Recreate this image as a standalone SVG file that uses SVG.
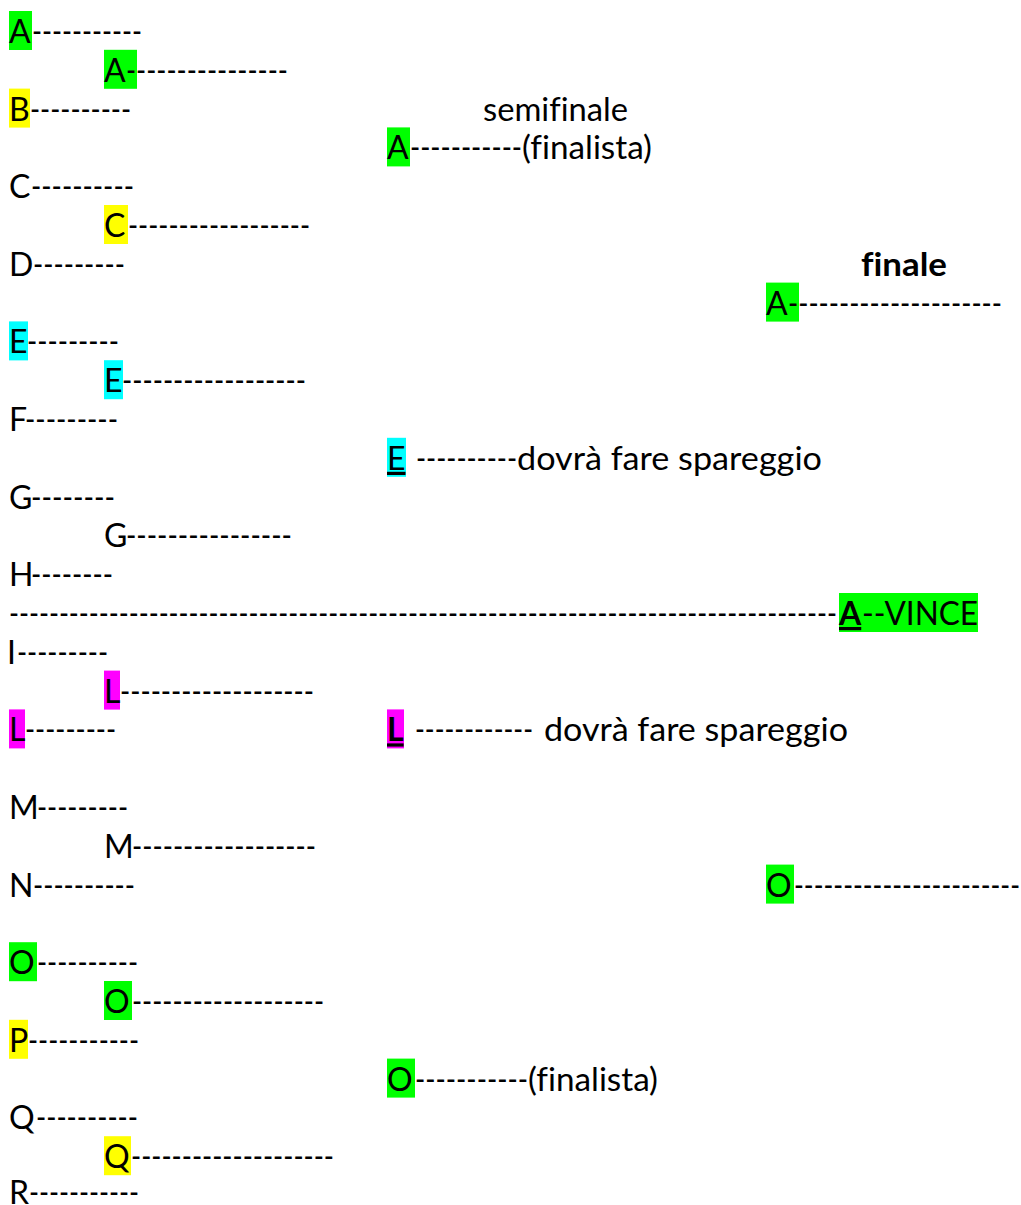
<svg xmlns="http://www.w3.org/2000/svg" width="1021" height="1205" viewBox="0 0 1021 1205">
<style>
text{font-family:Lato,"Noto Sans","DejaVu Sans",sans-serif;font-size:32px;fill:#000;font-variant-ligatures:none;font-feature-settings:"liga" 0}
.b{font-weight:bold}
.u{text-decoration:underline}
.g{fill:#00ff00}.y{fill:#ffff00}.c{fill:#00ffff}.m{fill:#ff00ff}
</style>
<rect width="1021" height="1205" fill="#fff"/>
<g id="highlights">
<rect class="g" x="9" y="11" width="23" height="39"/>
<rect class="g" x="104" y="49.8" width="33" height="39"/>
<rect class="y" x="9" y="88.6" width="21" height="39"/>
<rect class="g" x="387" y="127.4" width="23" height="39"/>
<rect class="y" x="104" y="205" width="24" height="39"/>
<rect class="g" x="766" y="282.6" width="33" height="39"/>
<rect class="c" x="9" y="321.4" width="19" height="39"/>
<rect class="c" x="104" y="360.2" width="19" height="39"/>
<rect class="c" x="387" y="437.8" width="19" height="39"/>
<rect class="g" x="839" y="593" width="139" height="39"/>
<rect class="m" x="104" y="670.6" width="16" height="39"/>
<rect class="m" x="9" y="709.4" width="16" height="39"/>
<rect class="m" x="387" y="709.4" width="17" height="39"/>
<rect class="g" x="766" y="864.6" width="28" height="39"/>
<rect class="g" x="9" y="942.2" width="28" height="39"/>
<rect class="g" x="104" y="981" width="28" height="39"/>
<rect class="y" x="9" y="1019.8" width="19" height="39"/>
<rect class="g" x="387" y="1058.6" width="28" height="39"/>
<rect class="y" x="104" y="1136.2" width="27" height="39"/>
</g>
<g id="headings">
<text x="483" y="120.6" textLength="145" lengthAdjust="spacingAndGlyphs">semifinale</text>
<text class="b" x="861" y="275.8" textLength="86" lengthAdjust="spacingAndGlyphs">finale</text>
</g>
<g id="round1">
<text x="9" y="43">A</text><text x="32" y="43" textLength="110" lengthAdjust="spacingAndGlyphs">-----------</text>
<text x="9" y="120.6">B</text><text x="30" y="120.6" textLength="101" lengthAdjust="spacingAndGlyphs">----------</text>
<text x="9" y="198.2">C</text><text x="31" y="198.2" textLength="103" lengthAdjust="spacingAndGlyphs">----------</text>
<text x="9" y="275.8">D</text><text x="33" y="275.8" textLength="92" lengthAdjust="spacingAndGlyphs">---------</text>
<text x="9" y="353.4">E</text><text x="27" y="353.4" textLength="92" lengthAdjust="spacingAndGlyphs">---------</text>
<text x="9" y="431">F</text><text x="25" y="431" textLength="93" lengthAdjust="spacingAndGlyphs">---------</text>
<text x="9" y="508.6">G</text><text x="31" y="508.6" textLength="84" lengthAdjust="spacingAndGlyphs">--------</text>
<text x="9" y="586.2">H</text><text x="31" y="586.2" textLength="82" lengthAdjust="spacingAndGlyphs">--------</text>
<text x="7" y="663.8">I</text><text x="17" y="663.8" textLength="91" lengthAdjust="spacingAndGlyphs">---------</text>
<text x="9" y="741.4">L</text><text x="25" y="741.4" textLength="91" lengthAdjust="spacingAndGlyphs">---------</text>
<text x="9" y="819">M</text><text x="37" y="819" textLength="91" lengthAdjust="spacingAndGlyphs">---------</text>
<text x="9" y="896.6">N</text><text x="33" y="896.6" textLength="102" lengthAdjust="spacingAndGlyphs">----------</text>
<text x="9" y="974.2">O</text><text x="37" y="974.2" textLength="101" lengthAdjust="spacingAndGlyphs">----------</text>
<text x="9" y="1051.8">P</text><text x="28" y="1051.8" textLength="111" lengthAdjust="spacingAndGlyphs">-----------</text>
<text x="9" y="1129.4">Q</text><text x="36" y="1129.4" textLength="102" lengthAdjust="spacingAndGlyphs">----------</text>
<text x="9" y="1204">R</text><text x="29" y="1204" textLength="110" lengthAdjust="spacingAndGlyphs">-----------</text>
</g>
<g id="round2">
<text x="104" y="81.8">A</text><text x="126" y="81.8" textLength="162" lengthAdjust="spacingAndGlyphs">----------------</text>
<text x="104" y="237">C</text><text x="128" y="237" textLength="182" lengthAdjust="spacingAndGlyphs">------------------</text>
<text x="104" y="392.2">E</text><text x="122" y="392.2" textLength="184" lengthAdjust="spacingAndGlyphs">------------------</text>
<text x="104" y="547.4">G</text><text x="126" y="547.4" textLength="166" lengthAdjust="spacingAndGlyphs">----------------</text>
<text x="104" y="702.6">L</text><text x="120" y="702.6" textLength="194" lengthAdjust="spacingAndGlyphs">-------------------</text>
<text x="104" y="857.8">M</text><text x="132" y="857.8" textLength="184" lengthAdjust="spacingAndGlyphs">------------------</text>
<text x="104" y="1013">O</text><text x="132" y="1013" textLength="192" lengthAdjust="spacingAndGlyphs">-------------------</text>
<text x="104" y="1168.2">Q</text><text x="131" y="1168.2" textLength="203" lengthAdjust="spacingAndGlyphs">--------------------</text>
</g>
<g id="semifinal">
<text x="387" y="159.4">A</text><text x="410" y="159.4" textLength="112" lengthAdjust="spacingAndGlyphs">-----------</text><text x="522" y="159.4" textLength="130" lengthAdjust="spacingAndGlyphs">(finalista)</text>
<text class="u" x="387" y="469.8">E</text><text x="416" y="469.8" textLength="101" lengthAdjust="spacingAndGlyphs">----------</text><text x="517" y="469.8" textLength="305" lengthAdjust="spacingAndGlyphs">dovrà fare spareggio</text>
<text class="b u" x="387" y="741.4">L</text><text x="415" y="741.4" textLength="118" lengthAdjust="spacingAndGlyphs">------------</text><text x="544" y="741.4" textLength="304" lengthAdjust="spacingAndGlyphs">dovrà fare spareggio</text>
<text x="387" y="1090.6">O</text><text x="415" y="1090.6" textLength="113" lengthAdjust="spacingAndGlyphs">-----------</text><text x="528" y="1090.6" textLength="130" lengthAdjust="spacingAndGlyphs">(finalista)</text>
</g>
<g id="final">
<text x="766" y="314.6">A</text><text x="788" y="314.6" textLength="214" lengthAdjust="spacingAndGlyphs">---------------------</text>
<text x="766" y="896.6">O</text><text x="794" y="896.6" textLength="226" lengthAdjust="spacingAndGlyphs">-----------------------</text>
</g>
<g id="winner">
<text x="9" y="625" textLength="828" lengthAdjust="spacingAndGlyphs">-----------------------------------------------------------------------------------</text>
<text class="b u" x="839" y="625">A</text><text x="862" y="625" textLength="116" lengthAdjust="spacingAndGlyphs">--VINCE</text>
</g>
</svg>
